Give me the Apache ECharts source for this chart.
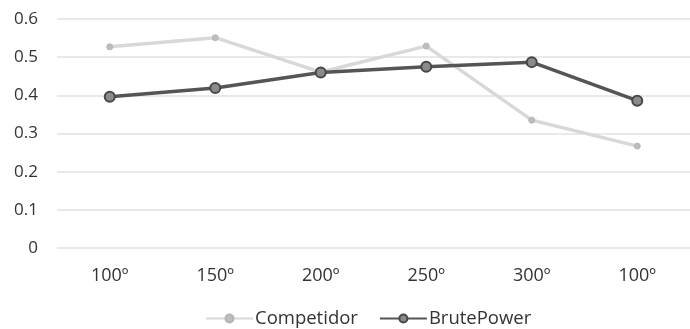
<!DOCTYPE html>
<html><head><meta charset="utf-8">
<script src="https://cdn.jsdelivr.net/npm/echarts@6/dist/echarts.min.js"></script>
<style>html,body{margin:0;padding:0;background:#fff}#c{width:690px;height:329px}</style>
</head><body><div id="c"></div>
<script>
const categories = ['100º','150º','200º','250º','300º','100º'];
const competidor = [0.527, 0.551, 0.461, 0.529, 0.335, 0.267];
const brutePower = [0.396, 0.419, 0.460, 0.475, 0.487, 0.386];
const yTicks = [0, 0.1, 0.2, 0.3, 0.4, 0.5, 0.6];

const chart = echarts.init(document.getElementById('c'));
const font = 'Open Sans';
chart.setOption({
  animation: false,
  grid: {left: 57, right: -6, top: 19, bottom: 81, containLabel: false},
  legend: {
    top: 304, left: 200, itemWidth: 47, itemHeight: 10, itemGap: 21,
    textStyle: {fontFamily: font, fontSize: 18.5, color: '#333', padding: [0,0,0,-3]},
    data: ['Competidor', 'BrutePower']
  },
  xAxis: {
    type: 'category', data: categories, boundaryGap: true,
    axisLine: {show: false}, axisTick: {show: false},
    axisLabel: {fontFamily: font, fontSize: 18, color: '#333', margin: 19}
  },
  yAxis: {
    type: 'value', min: yTicks[0], max: yTicks[yTicks.length-1], interval: 0.1,
    axisLine: {show: false}, axisTick: {show: false},
    axisLabel: {fontFamily: font, fontSize: 17, color: '#333', margin: 19,
      formatter: v => String(Math.round(v*10)/10)},
    splitLine: {lineStyle: {color: '#e2e2e2', width: 1.5}}
  },
  series: [
    {name: 'Competidor', type: 'line', data: competidor,
     lineStyle: {color: '#d8d8d8', width: 3.5},
     itemStyle: {color: '#bdbdbd', borderColor: '#b5b5b5', borderWidth: 1},
     symbol: 'circle', symbolSize: 6, z: 1},
    {name: 'BrutePower', type: 'line', data: brutePower,
     lineStyle: {color: '#555555', width: 3.5},
     itemStyle: {color: '#8a8a8a', borderColor: '#474747', borderWidth: 2},
     symbol: 'circle', symbolSize: 10, z: 2}
  ]
});
</script></body></html>
